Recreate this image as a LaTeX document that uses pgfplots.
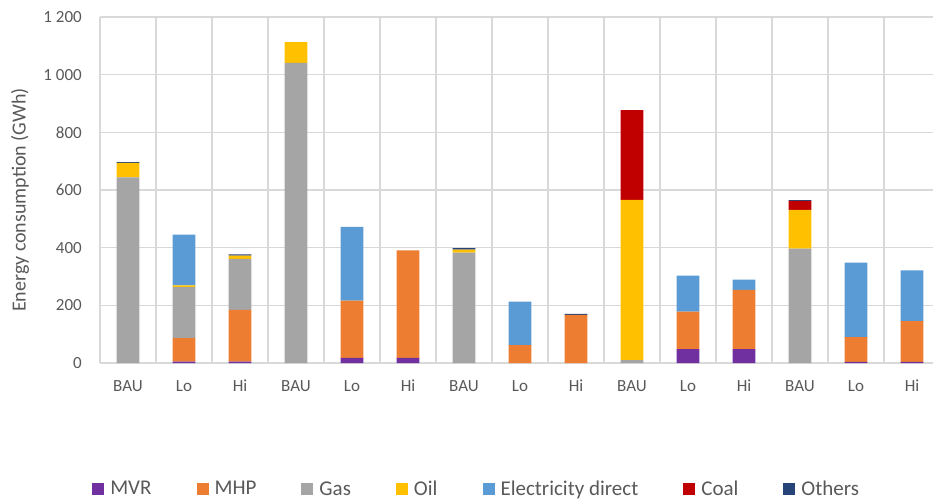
\documentclass[border=0pt]{standalone}
\usepackage{fontspec}
\setmainfont{Carlito}
\usepackage{pgfplots}
\usepackage{pgfplotstable}
\pgfplotsset{compat=1.18}

\definecolor{cMVR}{HTML}{7030A0}
\definecolor{cMHP}{HTML}{ED7D31}
\definecolor{cGas}{HTML}{A5A5A5}
\definecolor{cOil}{HTML}{FFC000}
\definecolor{cElec}{HTML}{5B9BD5}
\definecolor{cCoal}{HTML}{C00000}
\definecolor{cOth}{HTML}{264478}
\definecolor{gridgray}{HTML}{D9D9D9}
\definecolor{txtgray}{HTML}{595959}

% energy consumption by scenario (GWh)
\pgfplotstableread{
x lab mvr mhp gas oil elec coal oth
0 BAU 0 0 644 50 0 0 3
1 Lo 5 81 177 6 176 0 0
2 Hi 5 179 177 11 0 0 5
3 BAU 0 0 1041 72 0 0 0
4 Lo 18 198 0 0 256 0 0
5 Hi 18 373 0 0 0 0 0
6 BAU 0 0 383 10 0 0 5
7 Lo 0 62 0 0 151 0 0
8 Hi 0 167 0 0 0 0 3
9 BAU 0 0 10 556 0 311 0
10 Lo 48 130 0 0 125 0 0
11 Hi 48 206 0 0 35 0 0
12 BAU 0 0 397 134 0 31 3
13 Lo 4 86 0 0 258 0 0
14 Hi 4 141 0 0 176 0 0
}\energy

\begin{document}
\begin{tikzpicture}
\begin{axis}[
    name=ax,
    scale only axis,
    width=833bp, height=346bp,
    ybar stacked,
    bar width=0.405,
    xmin=-0.5, xmax=14.375,
    ymin=0, ymax=1200,
    xtick={0,1,2,3,4,5,6,7,8,9,10,11,12,13,14},
    xticklabels={BAU,Lo,Hi,BAU,Lo,Hi,BAU,Lo,Hi,BAU,Lo,Hi,BAU,Lo,Hi},
    minor xtick={0.5,1.5,2.5,3.5,4.5,5.5,6.5,7.5,8.5,9.5,10.5,11.5,12.5,13.5},
    ytick={0,200,400,600,800,1000,1200},
    xminorgrids, ymajorgrids,
    grid style={draw=gridgray, line width=1.2bp},
    minor grid style={draw=gridgray, line width=1.2bp},
    major tick length=0pt, minor tick length=0pt,
    axis x line*=bottom, axis y line*=left,
    axis line style={draw=gridgray, line width=1.2bp, -},
    /pgf/number format/assume math mode=true,
    /pgf/number format/1000 sep={\hspace{0.23em}},
    ticklabel style={font=\fontsize{17bp}{20bp}\selectfont, text=txtgray, inner sep=0pt},
    yticklabel style={xshift=-18bp},
    xticklabel style={yshift=-17bp},
    ylabel={Energy consumption (GWh)},
    every axis y label/.style={at={(axis description cs:-0.096,0.471)}, rotate=90, anchor=center,
        font=\fontsize{20bp}{24bp}\selectfont, text=txtgray},
    legend style={draw=none, fill=none, at={(0.451,-0.364)}, anchor=center,
        legend columns=-1, font=\fontsize{21bp}{25bp}\selectfont, text=txtgray,
        nodes={inner sep=0pt},
        /tikz/every odd column/.append style={column sep=6bp},
        /tikz/every even column/.append style={column sep=45bp}},
    legend image code/.code={\fill[#1] (0bp,-6bp) rectangle (12bp,6bp);},
]
\addplot[fill=cMVR, draw=none] table[x=x, y=mvr] {\energy};
\addplot[fill=cMHP, draw=none] table[x=x, y=mhp] {\energy};
\addplot[fill=cGas, draw=none] table[x=x, y=gas] {\energy};
\addplot[fill=cOil, draw=none] table[x=x, y=oil] {\energy};
\addplot[fill=cElec, draw=none] table[x=x, y=elec] {\energy};
\addplot[fill=cCoal, draw=none] table[x=x, y=coal] {\energy};
\addplot[fill=cOth, draw=none] table[x=x, y=oth] {\energy};
\legend{MVR, MHP, Gas, Oil, Electricity direct, Coal, Others}
\end{axis}
\pgfresetboundingbox
\path[use as bounding box] ([shift={(-100bp,-139bp)}]ax.south west) rectangle ([shift={(833bp,363bp)}]ax.south west);
\end{tikzpicture}
\end{document}
